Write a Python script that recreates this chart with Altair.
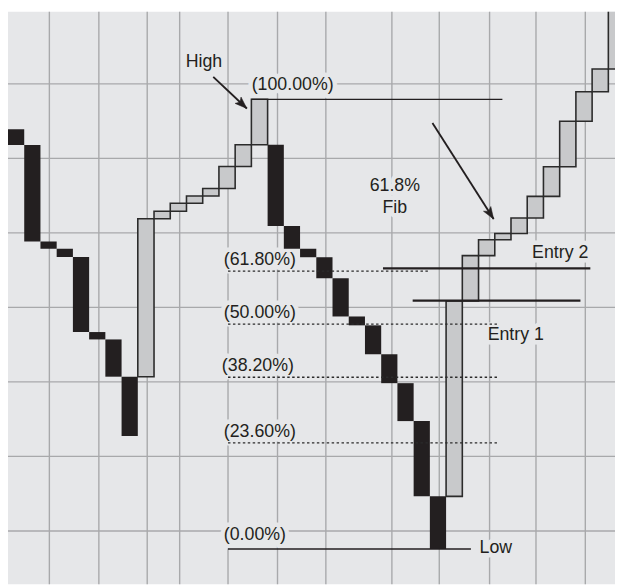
import math
import altair as alt
import pandas as pd

# ---- Three-line-break boxes (one per column), prices ----
box_open = [63.91, 61.79, 48.85, 47.88, 46.75, 36.69, 35.70, 30.70,
            30.70, 51.89, 52.91, 53.97, 54.94, 55.96, 58.91, 61.83,
            61.83, 50.93, 47.88, 46.73, 43.91, 38.78, 37.59, 33.71, 29.83, 24.74, 14.64,
            14.64, 40.86, 46.95, 49.07, 49.91, 51.99, 54.90, 58.87, 64.97, 68.94, 71.99]
box_close = [61.79, 48.85, 47.88, 46.75, 36.69, 35.70, 30.70, 22.75,
             51.89, 52.91, 53.97, 54.94, 55.96, 58.91, 61.83, 67.92,
             50.93, 47.88, 46.73, 43.91, 38.78, 37.59, 33.71, 29.83, 24.74, 14.64, 7.58,
             40.86, 46.95, 49.07, 49.91, 51.99, 54.90, 58.87, 64.97, 68.94, 71.99, 82.0]

# ---- grid ----
grid_y = [10, 20, 30, 40, 50, 60, 70]
grid_x = [2.55, 5.60, 8.58, 10.58, 13.56, 16.61, 19.59, 23.66, 26.58, 29.68, 32.54, 35.58]

# ---- Fibonacci retracement levels ----
fib_pct = [100.0, 61.8, 50.0, 38.2, 23.6, 0.0]
fib_x0 = [15.0, 13.56, 13.56, 13.56, 13.56, 13.56]
fib_x1 = [30.47, 25.97, 30.23, 30.23, 30.23, 28.53]
fib_solid = [True, False, False, False, False, True]
fib_label_x = [15.02, 13.30, 13.30, 13.18, 13.30, 13.30]
fib_label_y = [69.87, 46.29, 39.27, 32.16, 23.25, 9.47]

# ---- entry lines ----
entry_names = ["Entry 2", "Entry 1"]
entry_price = [45.23, 40.90]
entry_x0 = [23.11, 24.94]
entry_x1 = [35.89, 35.28]
entry_label_x = [32.30, 29.56]
entry_label_y = [47.26, 36.26]

# ---- other annotations ----
note_left_text = ["High", "Low"]
note_left_x = [10.95, 29.06]
note_left_y = [72.91, 7.75]
note_center_text = ["61.8%", "Fib"]
note_center_x = [23.84, 23.84]
note_center_y = [56.23, 53.31]

arrow_x0 = [12.65, 26.16]
arrow_y0 = [70.93, 64.74]
arrow_x1 = [14.72, 29.93]
arrow_y1 = [66.69, 51.85]

# ---- styling ----
BG = "#e6e7e9"
GRID = "#a8a9ab"
INK = "#231f20"
UPFILL = "#c8c9cb"
FONT = "Liberation Sans"
FS = 18
W, H = 615, 580
XMAX, YMAX = 37.41, 79.67
YMIN = YMAX - H / 7.55

xs = alt.Scale(domain=[0, XMAX], nice=False, zero=False)
ys = alt.Scale(domain=[YMIN, YMAX], nice=False, zero=False)

high = box_close[15]
low = box_close[26]

boxes = pd.DataFrame({
    "c0": list(range(len(box_open))),
    "c1": [i + 1 for i in range(len(box_open))],
    "open": box_open,
    "close": box_close,
})
boxes["dir"] = ["up" if c > o else "down" for o, c in zip(box_open, box_close)]

fib = pd.DataFrame({
    "x0": fib_x0, "x1": fib_x1,
    "y": [low + p / 100.0 * (high - low) for p in fib_pct],
    "solid": fib_solid,
    "label": [f"({p:.2f}%)" for p in fib_pct],
})
entries = pd.DataFrame({"name": entry_names, "y": entry_price, "x0": entry_x0, "x1": entry_x1})

left_labels = pd.DataFrame({
    "text": list(fib["label"]) + entry_names + note_left_text,
    "x": fib_label_x + entry_label_x + note_left_x,
    "y": fib_label_y + entry_label_y + note_left_y,
})
center_labels = pd.DataFrame({"text": note_center_text, "x": note_center_x, "y": note_center_y})

px_per_x = W / XMAX
px_per_y = H / (YMAX - YMIN)
arrows = pd.DataFrame({"x0": arrow_x0, "y0": arrow_y0, "x1": arrow_x1, "y1": arrow_y1})
arrows["angle"] = [
    (math.degrees(math.atan2((b - a) * px_per_x, (d - c) * px_per_y)) + 360) % 360
    for a, b, c, d in zip(arrow_x0, arrow_x1, arrow_y0, arrow_y1)
]

gx = alt.Chart(pd.DataFrame({"x": grid_x})).mark_rule(color=GRID, strokeWidth=1.4).encode(
    x=alt.X("x:Q", scale=xs, axis=None))
gy = alt.Chart(pd.DataFrame({"y": grid_y})).mark_rule(color=GRID, strokeWidth=1.4).encode(
    y=alt.Y("y:Q", scale=ys, axis=None))


def text_layer(df, align, halo):
    if halo:
        mk = alt.Chart(df).mark_text(align=align, baseline="middle", font=FONT, fontSize=FS,
                                     fill=BG, stroke=BG, strokeWidth=9, strokeJoin="round")
    else:
        mk = alt.Chart(df).mark_text(align=align, baseline="middle", font=FONT, fontSize=FS,
                                     fill=INK)
    return mk.encode(x=alt.X("x:Q", scale=xs, axis=None), y=alt.Y("y:Q", scale=ys, axis=None),
                     text="text:N")


halo_l = text_layer(left_labels, "left", True)
halo_c = text_layer(center_labels, "center", True)
txt_l = text_layer(left_labels, "left", False)
txt_c = text_layer(center_labels, "center", False)

box_base = alt.Chart(boxes).encode(
    x=alt.X("c0:Q", scale=xs, axis=None), x2="c1:Q",
    y=alt.Y("open:Q", scale=ys, axis=None), y2="close:Q")
down_boxes = box_base.transform_filter(alt.datum.dir == "down").mark_rect(
    fill=INK, clip=True)
up_boxes = box_base.transform_filter(alt.datum.dir == "up").mark_rect(
    fill=UPFILL, stroke="#2b2b2b", strokeWidth=1.6, clip=True)

fib_base = alt.Chart(fib).encode(
    x=alt.X("x0:Q", scale=xs, axis=None), x2="x1:Q", y=alt.Y("y:Q", scale=ys, axis=None))
fib_solid_l = fib_base.transform_filter(alt.datum.solid == True).mark_rule(
    color=INK, strokeWidth=1.4)
fib_dot_l = fib_base.transform_filter(alt.datum.solid == False).mark_rule(
    color="#2b2b2b", strokeWidth=1.4, strokeDash=[2.5, 2.5])

entry_l = alt.Chart(entries).mark_rule(color=INK, strokeWidth=2.4).encode(
    x=alt.X("x0:Q", scale=xs, axis=None), x2="x1:Q", y=alt.Y("y:Q", scale=ys, axis=None))

arrow_line = alt.Chart(arrows).mark_rule(color=INK, strokeWidth=1.9).encode(
    x=alt.X("x0:Q", scale=xs, axis=None), x2="x1:Q",
    y=alt.Y("y0:Q", scale=ys, axis=None), y2="y1:Q")
arrow_head = alt.Chart(arrows).mark_point(
    shape="M0,0L0.72,2L0,1.55L-0.72,2Z", filled=True, fill=INK, stroke=INK, strokeWidth=0.5,
    size=150, opacity=1).encode(
    x=alt.X("x1:Q", scale=xs, axis=None), y=alt.Y("y1:Q", scale=ys, axis=None),
    angle=alt.Angle("angle:Q", scale=None))

chart = alt.layer(
    gx, gy, halo_l, halo_c, down_boxes, up_boxes, fib_solid_l, fib_dot_l, entry_l,
    arrow_line, arrow_head, txt_l, txt_c
).properties(
    width=W, height=H, padding=0, autosize=alt.AutoSizeParams(type="none")
).configure_view(fill=BG, strokeWidth=0)

chart.save("out.html", embed_options={"renderer": "svg", "actions": False})
